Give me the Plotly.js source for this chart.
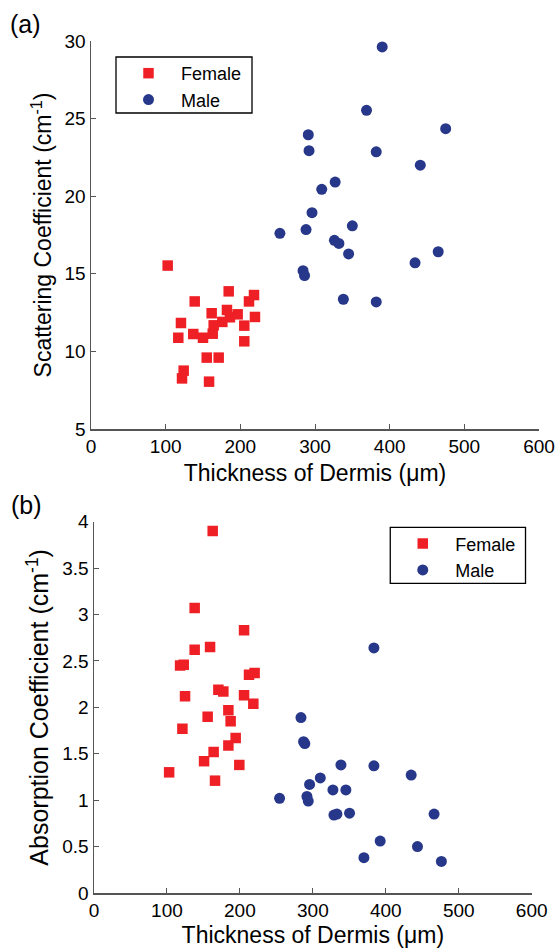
<!DOCTYPE html>
<html>
<head>
<meta charset="utf-8">
<script src="https://cdn.plot.ly/plotly-3.0.1.min.js"></script>
<style>
html,body{margin:0;padding:0;background:#fff;}
#chart{width:556px;height:948px;}
</style>
</head>
<body>
<div id="chart"></div>
<script>
// (a) Scattering coefficient vs dermis thickness
var femaleThickA = [102.7,184.4,218.3,211.6,138.9,161.6,182.1,196.4,186.1,219.6,120.5,175.9,164.3,205.3,137.0,163.0,150.0,116.9,205.3,155.0,171.0,124.1,121.9,158.1];
var femaleScatter = [15.53,13.87,13.63,13.22,13.22,12.46,12.67,12.39,12.20,12.22,11.83,11.90,11.68,11.66,11.12,11.14,10.88,10.88,10.65,9.60,9.60,8.76,8.26,8.05];
var maleThickA = [390,369,475,291,292,382,441,327,309,296,253,288,350,326,332,345,465,434,284,286,338,382];
var maleScatter = [29.62,25.53,24.35,23.96,22.93,22.86,22.00,20.91,20.44,18.94,17.61,17.85,18.09,17.16,16.96,16.28,16.42,15.71,15.20,14.89,13.36,13.19];

// (b) Absorption coefficient vs dermis thickness
var femaleThickB = [162.7,138.0,205.7,138.0,159.1,118.0,123.0,212.5,220.2,124.8,170.5,177.3,205.7,218.4,184.2,155.8,187.3,121.2,194.2,184.2,164.0,150.9,199.2,103.0,165.9];
var femaleAbsorb = [3.90,3.07,2.83,2.62,2.65,2.45,2.46,2.35,2.37,2.12,2.19,2.17,2.13,2.04,1.97,1.90,1.85,1.77,1.67,1.59,1.52,1.42,1.38,1.30,1.21];
var maleThickB = [383.7,283.7,287.3,289.0,338.5,383.7,434.8,310.2,295.5,327.5,345.3,254.4,291.9,293.7,328.9,333.0,350.3,466.2,392.3,443.4,370.0,476.2];
var maleAbsorb = [2.64,1.89,1.63,1.61,1.38,1.37,1.27,1.24,1.17,1.11,1.11,1.02,1.04,0.99,0.84,0.85,0.86,0.85,0.56,0.50,0.38,0.34];

var seriesNames = ['Female','Male'];
var xTitle = 'Thickness of Dermis (μm)';
var yTitleA = 'Scattering Coefficient (cm<sup>-1</sup>)';
var yTitleB = 'Absorption Coefficient (cm<sup>-1</sup>)';

var RED = '#EE2026', BLUE = '#27378A';
var FONT = 'Liberation Sans, Arial, Helvetica, sans-serif';

var traces = [
  {x: femaleThickA, y: femaleScatter, name: seriesNames[0], type: 'scatter', mode: 'markers',
   marker: {symbol: 'square', size: 10.5, color: RED}, xaxis: 'x', yaxis: 'y', legend: 'legend'},
  {x: maleThickA, y: maleScatter, name: seriesNames[1], type: 'scatter', mode: 'markers',
   marker: {symbol: 'circle', size: 11, color: BLUE}, xaxis: 'x', yaxis: 'y', legend: 'legend'},
  {x: femaleThickB, y: femaleAbsorb, name: seriesNames[0], type: 'scatter', mode: 'markers',
   marker: {symbol: 'square', size: 10.5, color: RED}, xaxis: 'x2', yaxis: 'y2', legend: 'legend2'},
  {x: maleThickB, y: maleAbsorb, name: seriesNames[1], type: 'scatter', mode: 'markers',
   marker: {symbol: 'circle', size: 11, color: BLUE}, xaxis: 'x2', yaxis: 'y2', legend: 'legend2'}
];

function axisStyle(extra) {
  var a = {
    showline: true, linecolor: '#555', linewidth: 1.5, mirror: false,
    ticks: 'inside', ticklen: 5, tickcolor: '#555', tickwidth: 1,
    showgrid: false, zeroline: false, automargin: false,
    tickfont: {family: FONT, size: 19, color: '#000'}
  };
  for (var k in extra) a[k] = extra[k];
  return a;
}

var legendStyle = {
  font: {family: FONT, size: 18, color: '#000'},
  bgcolor: 'rgba(0,0,0,0)', borderwidth: 0,
  itemwidth: 55, xanchor: 'left', yanchor: 'top', xref: 'paper', yref: 'paper'
};
function leg(x, y) { var l = {}; for (var k in legendStyle) l[k] = legendStyle[k]; l.x = x; l.y = y; return l; }

// legend frame boxes (paper coords)
function box(x0, y0, x1, y1) {
  return {type: 'rect', xref: 'paper', yref: 'paper', x0: x0, y0: y0, x1: x1, y1: y1,
          line: {color: '#000', width: 1.3}, fillcolor: 'rgba(255,255,255,0)', layer: 'above'};
}

var layout = {
  width: 556, height: 948,
  margin: {l: 91, r: 17, t: 41, b: 55},
  paper_bgcolor: '#fff', plot_bgcolor: '#fff',
  font: {family: FONT, color: '#000'},
  showlegend: true,
  xaxis: axisStyle({domain: [0, 1], range: [0, 600], dtick: 100, anchor: 'y',
    title: {text: xTitle, font: {family: FONT, size: 23, color: '#000'}, standoff: 8}}),
  yaxis: axisStyle({domain: [0.5446, 1], range: [5, 30], dtick: 5, anchor: 'x',
    title: {text: yTitleA, font: {family: FONT, size: 23, color: '#000'}, standoff: 6}}),
  xaxis2: axisStyle({domain: [0.0067, 0.9837], range: [0, 600], dtick: 100, anchor: 'y2',
    title: {text: xTitle, font: {family: FONT, size: 23, color: '#000'}, standoff: 6}}),
  yaxis2: axisStyle({domain: [0, 0.4358], range: [0, 4], dtick: 0.5, anchor: 'x2',
    title: {text: yTitleB, font: {family: FONT, size: 25, color: '#000'}, standoff: 6}}),
  legend: leg(0.0558, 0.9836),
  legend2: leg(0.668, 0.4316),
  shapes: [
    box(0.0558, 0.9812, 0.3594, 0.9155),
    box(0.668, 0.4292, 0.9699, 0.3635)
  ],
  annotations: [
    {text: '(a)', xref: 'paper', yref: 'paper', x: -0.185, y: 1.0195, xanchor: 'left', yanchor: 'middle',
     showarrow: false, font: {family: FONT, size: 25, color: '#000'}},
    {text: '(b)', xref: 'paper', yref: 'paper', x: -0.183, y: 0.455, xanchor: 'left', yanchor: 'middle',
     showarrow: false, font: {family: FONT, size: 25, color: '#000'}}
  ]
};

Plotly.newPlot('chart', traces, layout, {displayModeBar: false, staticPlot: true});
</script>
</body>
</html>
